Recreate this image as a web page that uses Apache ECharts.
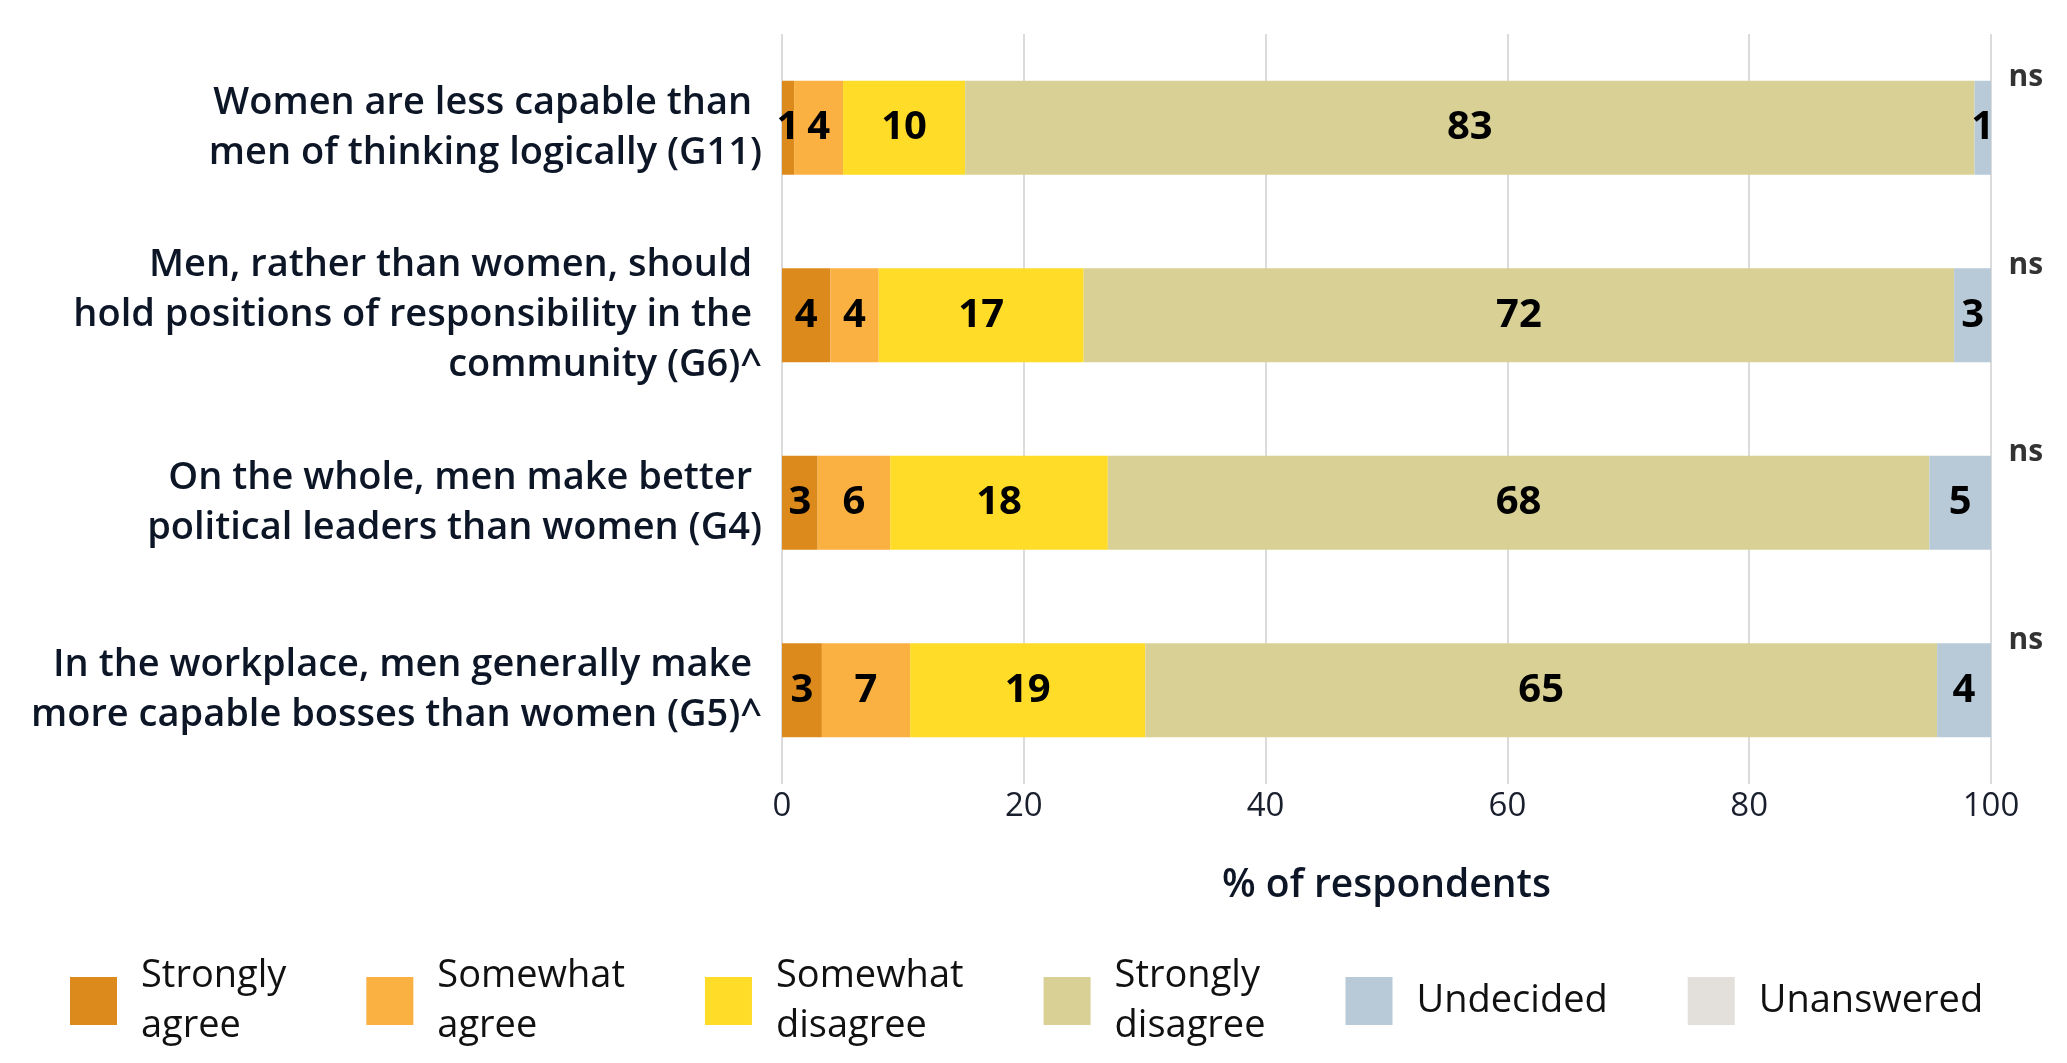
<!DOCTYPE html>
<html>
<head>
<meta charset="utf-8">
<script src="https://cdn.jsdelivr.net/npm/echarts@6/dist/echarts.min.js"></script>
<style>
html,body{margin:0;padding:0;background:#fff;}
#chart{width:2067px;height:1063px;}
</style>
</head>
<body>
<div id="chart"></div>
<script>
const categories = [
  "Women are less capable than \nmen of thinking logically (G11)",
  "Men, rather than women, should \nhold positions of responsibility in the \ncommunity (G6)^",
  "On the whole, men make better \npolitical leaders than women (G4)",
  "In the workplace, men generally make \nmore capable bosses than women (G5)^"
];
const seriesNames = ["Strongly agree", "Somewhat agree", "Somewhat disagree", "Strongly disagree", "Undecided", "Unanswered"];
const stronglyAgree    = [1.0, 4.0, 2.95, 3.3];
const somewhatAgree    = [4.05, 4.0, 6.0, 7.3];
const somewhatDisagree = [10.1, 16.95, 18.0, 19.45];
const stronglyDisagree = [83.49, 72.0, 67.95, 65.49];
const undecided        = [1.36, 3.05, 5.1, 4.46];
const unanswered       = [0, 0, 0, 0];
const notes = ["ns", "ns", "ns", "ns"];
const xTicks = { min: 0, max: 100, interval: 20 };
const colors = ["#dc8a1b", "#fbb042", "#ffdc27", "#d8d094", "#b8cad8", "#e3e0dc"];

const FONT = "'Open Sans', 'Noto Sans', sans-serif";
const seriesData = [stronglyAgree, somewhatAgree, somewhatDisagree, stronglyDisagree, undecided, unanswered];

const chart = echarts.init(document.getElementById('chart'), null, { renderer: 'canvas' });

const barSeries = seriesNames.map((name, i) => ({
  name: name,
  type: 'bar',
  stack: 'total',
  barWidth: 94,
  data: seriesData[i],
  itemStyle: { color: colors[i] },
  label: {
    show: true,
    position: 'inside',
    fontFamily: FONT,
    fontSize: 40,
    fontWeight: 'bold',
    color: '#000',
    formatter: p => (p.value >= 0.5 ? String(Math.round(p.value)) : '')
  },
  emphasis: { disabled: true }
}));

const noteSeries = {
  name: 'notes',
  type: 'scatter',
  data: categories.map((c, i) => [xTicks.max, i]),
  symbolSize: 1,
  itemStyle: { color: 'transparent' },
  silent: true,
  label: {
    show: true,
    position: 'right',
    distance: 0,
    offset: [17, -50],
    fontFamily: FONT,
    fontSize: 30,
    fontWeight: 'bold',
    color: '#000',
    formatter: p => notes[p.dataIndex]
  },
  z: 5
};

chart.setOption({
  animation: false,
  backgroundColor: '#fff',
  textStyle: { fontFamily: FONT },
  grid: { left: 782, right: 76, top: 34, height: 750, containLabel: false, outerBoundsMode: 'none' },
  xAxis: {
    type: 'value',
    min: xTicks.min,
    max: xTicks.max,
    interval: xTicks.interval,
    axisLine: { show: false },
    axisTick: { show: false },
    splitLine: { show: true, lineStyle: { color: '#cfcfcf', width: 1.5 } },
    axisLabel: { fontFamily: FONT, fontSize: 33, color: '#1a1f2e', margin: 6 },
    name: '% of respondents',
    nameLocation: 'middle',
    nameGap: 82,
    nameTextStyle: { fontFamily: FONT, fontSize: 39, fontWeight: 600, color: '#0d1626' }
  },
  yAxis: {
    type: 'category',
    inverse: true,
    data: categories,
    axisLine: { show: false },
    axisTick: { show: false },
    splitLine: { show: false },
    axisLabel: {
      fontFamily: FONT,
      fontSize: 38,
      fontWeight: 600,
      lineHeight: 50,
      color: '#0d1626',
      margin: 20,
      align: 'right'
    }
  },
  legend: {
    data: seriesNames,
    left: 65,
    top: 946,
    icon: 'rect',
    itemWidth: 47,
    itemHeight: 48,
    itemGap: 80,
    selectedMode: false,
    formatter: name => name.replace(' ', '\n'),
    textStyle: {
      fontFamily: FONT,
      fontSize: 38,
      fontWeight: 500,
      lineHeight: 50,
      color: '#111',
      padding: [0, 0, 0, 19]
    }
  },
  series: [...barSeries, noteSeries]
});
</script>
</body>
</html>
